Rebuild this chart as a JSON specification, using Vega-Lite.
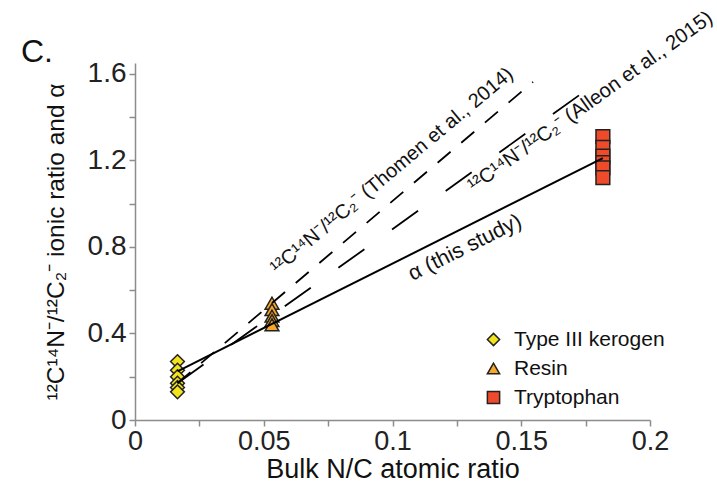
{
  "$schema": "https://vega.github.io/schema/vega-lite/v6.json",
  "width": 515,
  "height": 357,
  "autosize": {"type": "none"},
  "padding": {"left": 135, "top": 63, "right": 67, "bottom": 68},
  "config": {
    "view": {"stroke": null},
    "font": "Liberation Sans",
    "axis": {
      "grid": false,
      "domainColor": "#8c8c8c",
      "domainWidth": 1.5,
      "tickColor": "#8c8c8c",
      "tickWidth": 1.5,
      "tickSize": 6,
      "labelFontSize": 27,
      "labelColor": "#222222",
      "titleFontSize": 27,
      "titleFontWeight": "normal",
      "titleColor": "#111111",
      "labelFont": "Liberation Sans",
      "titleFont": "Liberation Sans"
    }
  },
  "title": {
    "text": "C.",
    "anchor": "start",
    "frame": "group",
    "dx": -114,
    "dy": 86,
    "offset": 0,
    "baseline": "alphabetic",
    "fontSize": 32,
    "fontWeight": "normal",
    "color": "#111111",
    "font": "Liberation Sans"
  },
  "datasets": {
    "pts": [
      {"x": 0.0165, "y": 0.27, "s": "Type III kerogen"},
      {"x": 0.0165, "y": 0.23, "s": "Type III kerogen"},
      {"x": 0.0165, "y": 0.2, "s": "Type III kerogen"},
      {"x": 0.0165, "y": 0.17, "s": "Type III kerogen"},
      {"x": 0.0165, "y": 0.15, "s": "Type III kerogen"},
      {"x": 0.0165, "y": 0.13, "s": "Type III kerogen"},
      {"x": 0.0532, "y": 0.54, "s": "Resin"},
      {"x": 0.0532, "y": 0.51, "s": "Resin"},
      {"x": 0.0532, "y": 0.48, "s": "Resin"},
      {"x": 0.0532, "y": 0.46, "s": "Resin"},
      {"x": 0.0532, "y": 0.44, "s": "Resin"},
      {"x": 0.1817, "y": 1.31, "s": "Tryptophan"},
      {"x": 0.1817, "y": 1.26, "s": "Tryptophan"},
      {"x": 0.1817, "y": 1.22, "s": "Tryptophan"},
      {"x": 0.1817, "y": 1.19, "s": "Tryptophan"},
      {"x": 0.1817, "y": 1.165, "s": "Tryptophan"},
      {"x": 0.1817, "y": 1.12, "s": "Tryptophan"}
    ],
    "lines": [
      {"x": 0.0165, "y": 0.225, "l": "alpha"},
      {"x": 0.1817, "y": 1.21, "l": "alpha"},
      {"x": 0.0165, "y": 0.17, "l": "thomen"},
      {"x": 0.1546, "y": 1.563, "l": "thomen"},
      {"x": 0.0165, "y": 0.17, "l": "alleon"},
      {"x": 0.1814, "y": 1.577, "l": "alleon"}
    ]
  },
  "layer": [
    {
      "data": {"name": "pts"},
      "mark": {"type": "point", "filled": true, "stroke": "#222222", "strokeWidth": 1.5, "size": 190, "opacity": 1},
      "encoding": {
        "x": {
          "field": "x", "type": "quantitative",
          "scale": {"domain": [0, 0.2], "nice": false, "zero": false},
          "axis": {
            "title": "Bulk N/C atomic ratio",
            "values": [0, 0.025, 0.05, 0.075, 0.1, 0.125, 0.15, 0.175, 0.2],
            "labelExpr": "round(datum.value*1000) % 50 == 0 ? format(datum.value, '~g') : ''",
            "labelPadding": 2,
            "titlePadding": 2,
            "labelFlush": false,
            "labelOverlap": false
          }
        },
        "y": {
          "field": "y", "type": "quantitative",
          "scale": {"domain": [0, 1.65], "nice": false, "zero": false},
          "axis": {
            "title": "¹²C¹⁴N⁻/¹²C₂⁻ ionic ratio  and α",
            "titleFontSize": 24.5,
            "labelFontSize": 28,
            "values": [0, 0.2, 0.4, 0.6, 0.8, 1.0, 1.2, 1.4, 1.6],
            "labelExpr": "round(datum.value*10) % 4 == 0 ? (datum.value == 0 ? '0' : format(datum.value, '.1f')) : ''",
            "labelPadding": 3,
            "titlePadding": 19,
            "labelFlush": false,
            "labelOverlap": false
          }
        },
        "fill": {
          "field": "s", "type": "nominal",
          "scale": {"domain": ["Type III kerogen", "Resin", "Tryptophan"], "range": ["#f2e31f", "#f8a72a", "#ef4a2a"]},
          "legend": {
            "title": null,
            "orient": "none",
            "legendX": 348,
            "legendY": 266,
            "padding": 0,
            "labelFontSize": 21,
            "labelColor": "#111111",
            "labelFont": "Liberation Sans",
            "symbolSize": 150,
            "symbolStrokeColor": "#222222",
            "symbolStrokeWidth": 1.5,
            "rowPadding": 7,
            "labelOffset": 10
          }
        },
        "shape": {
          "field": "s", "type": "nominal",
          "scale": {"domain": ["Type III kerogen", "Resin", "Tryptophan"], "range": ["diamond", "triangle-up", "square"]}
        }
      }
    },
    {
      "data": {"name": "lines"},
      "transform": [{"filter": "datum.l == 'alpha'"}],
      "mark": {"type": "line", "color": "#000000", "strokeWidth": 2},
      "encoding": {
        "x": {"field": "x", "type": "quantitative"},
        "y": {"field": "y", "type": "quantitative"}
      }
    },
    {
      "data": {"name": "lines"},
      "transform": [{"filter": "datum.l == 'thomen'"}],
      "mark": {"type": "line", "color": "#000000", "strokeWidth": 1.8, "strokeDash": [17, 14]},
      "encoding": {
        "x": {"field": "x", "type": "quantitative"},
        "y": {"field": "y", "type": "quantitative"}
      }
    },
    {
      "data": {"name": "lines"},
      "transform": [{"filter": "datum.l == 'alleon'"}],
      "mark": {"type": "line", "color": "#000000", "strokeWidth": 1.8, "strokeDash": [32, 34]},
      "encoding": {
        "x": {"field": "x", "type": "quantitative"},
        "y": {"field": "y", "type": "quantitative"}
      }
    },
    {
      "data": {"values": [{"x": 0.0998, "y": 1.151, "t": "¹²C¹⁴N⁻/¹²C₂⁻ (Thomen et al., 2014)"}]},
      "mark": {"type": "text", "angle": -40, "fontSize": 20, "align": "center", "baseline": "middle", "color": "#111111", "font": "Liberation Sans"},
      "encoding": {
        "x": {"field": "x", "type": "quantitative"},
        "y": {"field": "y", "type": "quantitative"},
        "text": {"field": "t"}
      }
    },
    {
      "data": {"values": [{"x": 0.1768, "y": 1.47, "t": "¹²C¹⁴N⁻/¹²C₂⁻ (Alleon et al., 2015)"}]},
      "mark": {"type": "text", "angle": -35.6, "fontSize": 20.3, "align": "center", "baseline": "middle", "color": "#111111", "font": "Liberation Sans"},
      "encoding": {
        "x": {"field": "x", "type": "quantitative"},
        "y": {"field": "y", "type": "quantitative"},
        "text": {"field": "t"}
      }
    },
    {
      "data": {"values": [{"x": 0.1282, "y": 0.795, "t": "α  (this study)"}]},
      "mark": {"type": "text", "angle": -26.6, "fontSize": 21.5, "align": "center", "baseline": "middle", "color": "#111111", "font": "Liberation Sans"},
      "encoding": {
        "x": {"field": "x", "type": "quantitative"},
        "y": {"field": "y", "type": "quantitative"},
        "text": {"field": "t"}
      }
    }
  ]
}
